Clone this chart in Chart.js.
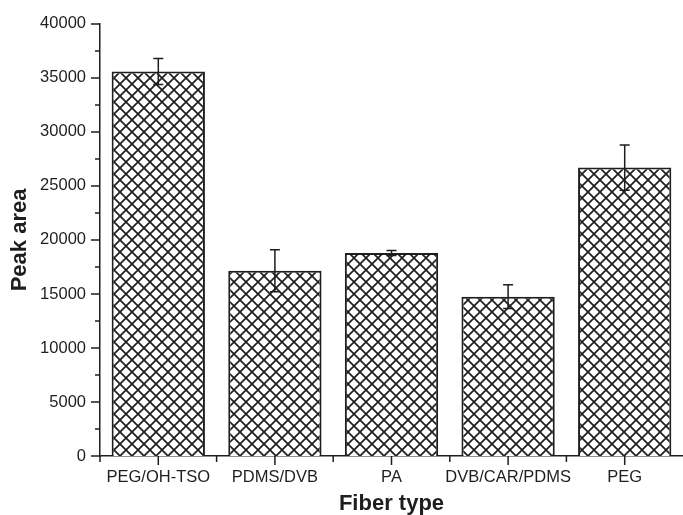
<!DOCTYPE html>
<html>
<head>
<meta charset="utf-8">
<script src="https://cdn.jsdelivr.net/npm/chart.js@4.4.1/dist/chart.umd.min.js"></script>
<style>
  html, body { margin: 0; padding: 0; background: #fff; }
  #wrap { width: 683px; height: 515px; }
</style>
</head>
<body>
<div id="wrap"><canvas id="mychart" width="683" height="515"></canvas></div>
<script>
// Data for the chart
const fibers = ['PEG/OH-TSO', 'PDMS/DVB', 'PA', 'DVB/CAR/PDMS', 'PEG'];
const peakArea = [35600, 17150, 18800, 14750, 26700];
const peakErr = [1200, 1950, 230, 1100, 2100];
const yTicks = [0, 5000, 10000, 15000, 20000, 25000, 30000, 35000, 40000];

const ink = '#1e1e1e';
const fontFam = '"Liberation Sans", Arial, Helvetica, sans-serif';

// crosshatch fill
function makeHatch() {
    const c = document.createElement('canvas');
    c.width = 12; c.height = 12;
    const g = c.getContext('2d');
    g.fillStyle = '#fff';
    g.fillRect(0, 0, 12, 12);
    g.strokeStyle = ink;
    g.lineWidth = 1.7;
    g.beginPath();
    g.moveTo(-1, -1); g.lineTo(13, 13);
    g.moveTo(-1, 13); g.lineTo(13, -1);
    g.stroke();
    return g.createPattern(c, 'repeat');
}

// error bars + tick marks (major / minor)
const extras = {
    id: 'extras',
    afterDatasetsDraw(chart) {
        const ctx = chart.ctx;
        const y = chart.scales.y;
        const meta = chart.getDatasetMeta(0);
        ctx.save();
        ctx.strokeStyle = ink;
        ctx.lineWidth = 1.5;
        meta.data.forEach((bar, i) => {
            const yt = y.getPixelForValue(peakArea[i] + peakErr[i]);
            const yb = y.getPixelForValue(peakArea[i] - peakErr[i]);
            ctx.beginPath();
            ctx.moveTo(bar.x, yt); ctx.lineTo(bar.x, yb);
            ctx.moveTo(bar.x - 5, yt); ctx.lineTo(bar.x + 5, yt);
            ctx.moveTo(bar.x - 5, yb); ctx.lineTo(bar.x + 5, yb);
            ctx.stroke();
        });
        ctx.restore();
    },
    afterDraw(chart) {
        const ctx = chart.ctx;
        const {left, right, bottom} = chart.chartArea;
        const y = chart.scales.y;
        const x = chart.scales.x;
        ctx.save();
        ctx.strokeStyle = ink;
        ctx.lineWidth = 1.5;
        ctx.beginPath();
        yTicks.forEach((v, i) => {
            const p = y.getPixelForValue(v);
            ctx.moveTo(left - 9, p); ctx.lineTo(left, p);
            if (i < yTicks.length - 1) {
                const m = y.getPixelForValue(v + 2500);
                ctx.moveTo(left - 5, m); ctx.lineTo(left, m);
            }
        });
        const w = (right - left) / fibers.length;
        fibers.forEach((f, i) => {
            const c = x.getPixelForValue(i);
            ctx.moveTo(c, bottom); ctx.lineTo(c, bottom + 9);
            const b = c - w / 2;
            ctx.moveTo(b, bottom); ctx.lineTo(b, bottom + 6);
        });
        ctx.stroke();
        ctx.restore();
    }
};

const config = {
    type: 'bar',
    data: {
        labels: fibers,
        datasets: [{
            data: peakArea,
            backgroundColor: makeHatch(),
            borderColor: ink,
            borderWidth: 2,
            categoryPercentage: 1,
            barPercentage: 0.8
        }]
    },
    options: {
        responsive: false,
        animation: false,
        layout: { padding: { top: 22, left: 0, right: 0, bottom: 0 } },
        plugins: { legend: { display: false }, tooltip: { enabled: false } },
        scales: {
            x: {
                grid: { display: false, drawTicks: false },
                border: { display: true, color: ink, width: 1.5 },
                ticks: { color: ink, padding: 12, autoSkip: false, maxRotation: 0,
                         font: { family: fontFam, size: 16.5 } },
                title: {
                    display: true, text: 'Fiber type', color: ink,
                    font: { family: fontFam, size: 22, weight: 'bold', lineHeight: 1 },
                    padding: { top: 0, bottom: 0 }
                },
                afterFit(scale) { scale.height = 59; }
            },
            y: {
                min: 0, max: 40000,
                grid: { display: false, drawTicks: false },
                border: { display: true, color: ink, width: 1.5 },
                ticks: { stepSize: 5000, color: ink, padding: 14,
                         font: { family: fontFam, size: 16.5 },
                         callback: v => String(v) },
                title: {
                    display: true, text: 'Peak area', color: ink,
                    font: { family: fontFam, size: 22, weight: 'bold', lineHeight: 1 },
                    padding: { top: 9, bottom: 0 }
                },
                afterFit(scale) { scale.width = 100; }
            }
        }
    },
    plugins: [extras]
};

let myChart = new Chart(document.getElementById('mychart'), config);
</script>
</body>
</html>
